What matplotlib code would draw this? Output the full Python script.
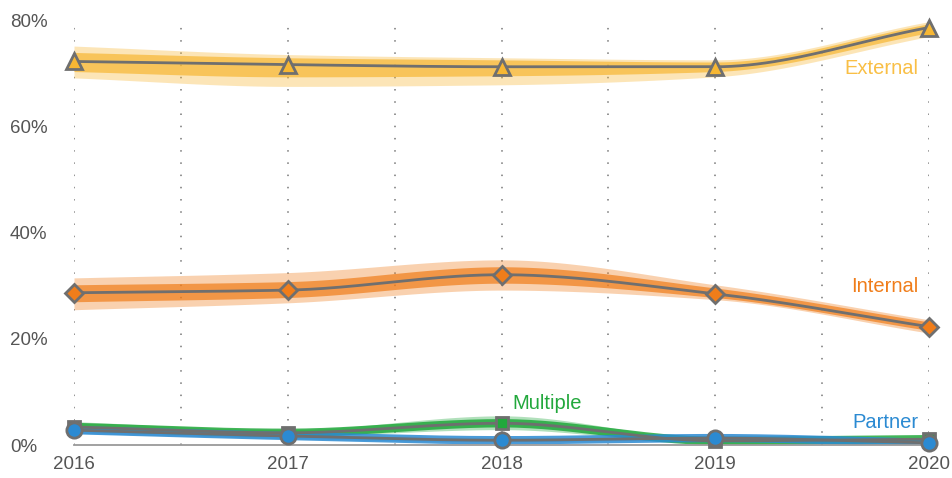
import matplotlib
matplotlib.use("Agg")
import matplotlib.pyplot as plt
import numpy as np

plt.rcParams["font.family"] = ["Liberation Sans", "DejaVu Sans"]

years = [2016, 2017, 2018, 2019, 2020]

# mean share (%) per source
external = [72.3, 71.7, 71.3, 71.3, 78.7]
internal = [28.7, 29.2, 32.1, 28.5, 22.3]
multiple = [3.4, 2.3, 4.1, 0.8, 1.1]
partner = [2.8, 1.7, 0.9, 1.3, 0.4]

# spread of the resampled curves (outer / dense core)
external_lo = [69.2, 67.6, 67.9, 69.4, 77.0]
external_hi = [75.2, 73.6, 73.0, 72.6, 79.8]
external_lo2 = [70.4, 69.4, 69.6, 70.4, 77.7]
external_hi2 = [74.0, 73.0, 72.6, 72.2, 79.4]
internal_lo = [25.5, 26.8, 29.2, 27.4, 21.1]
internal_hi = [31.5, 32.5, 34.9, 30.2, 23.6]
internal_lo2 = [27.0, 27.8, 30.5, 27.8, 21.6]
internal_hi2 = [30.2, 30.8, 33.6, 29.6, 23.2]
multiple_lo = [2.6, 1.7, 2.9, 0.3, 0.7]
multiple_hi = [4.4, 2.9, 5.5, 1.2, 1.4]
partner_lo = [2.2, 1.2, 0.6, 1.0, 0.2]
partner_hi = [3.3, 2.1, 1.3, 1.7, 0.7]

C = dict(ext="#f7b733", int="#f07d1a", mul="#22a83c", par="#2b8ad2", mean="#6f6f6f")


def smooth(x, y, n=200):
    """monotone cubic (Fritsch-Carlson) path through the points"""
    x = np.asarray(x, float); y = np.asarray(y, float)
    h = np.diff(x); d = np.diff(y) / h
    m = np.zeros_like(y)
    m[0], m[-1] = d[0], d[-1]
    for i in range(1, len(y) - 1):
        if d[i-1] * d[i] > 0:
            m[i] = 2 / (1/d[i-1] + 1/d[i])
    xs = np.linspace(x[0], x[-1], n)
    idx = np.clip(np.searchsorted(x, xs) - 1, 0, len(x) - 2)
    t = (xs - x[idx]) / h[idx]
    h00 = 2*t**3 - 3*t**2 + 1; h10 = t**3 - 2*t**2 + t
    h01 = -2*t**3 + 3*t**2; h11 = t**3 - t**2
    ys = h00*y[idx] + h10*h[idx]*m[idx] + h01*y[idx+1] + h11*h[idx]*m[idx+1]
    return xs, ys


fig = plt.figure(figsize=(9.53, 4.78), dpi=100)
ax = fig.add_axes([74/953, 33/478, 855/953, 435/478])
ax.set_xlim(2016, 2020)
ax.set_ylim(0, 82)

for xv in np.arange(2016, 2020.01, 0.5):
    ax.axvline(xv, ymin=0, ymax=0.98, color="#777777", lw=1.1,
               ls=(0, (1, 7)), zorder=0)

series = [
    (external, external_lo, external_hi, external_lo2, external_hi2, C["ext"], "^", 11),
    (internal, internal_lo, internal_hi, internal_lo2, internal_hi2, C["int"], "D", 9),
    (multiple, multiple_lo, multiple_hi, None, None, C["mul"], "s", 9),
    (partner, partner_lo, partner_hi, None, None, C["par"], "o", 11),
]

for mean, lo, hi, lo2, hi2, col, mk, ms in series:
    xs, ylo = smooth(years, lo)
    _, yhi = smooth(years, hi)
    ax.fill_between(xs, ylo, yhi, color=col, alpha=0.35, lw=0, zorder=1)
    if lo2 is not None:
        _, ylo2 = smooth(years, lo2)
        _, yhi2 = smooth(years, hi2)
        ax.fill_between(xs, ylo2, yhi2, color=col, alpha=0.7, lw=0, zorder=1.5)
    else:
        _, ym = smooth(years, mean)
        ax.plot(xs, ym, color=col, lw=6, alpha=0.85, zorder=1.5,
                solid_capstyle="butt")

for mean, lo, hi, lo2, hi2, col, mk, ms in series:
    xs, ym = smooth(years, mean)
    ax.plot(xs, ym, color=C["mean"], lw=2.0, zorder=3, solid_capstyle="butt")
    ax.plot(years, mean, ls="none", marker=mk, ms=ms, mfc=col, mec=C["mean"],
            mew=2.0, zorder=4, clip_on=False)

lab = dict(fontsize=14.5)
ax.text(2019.95, 71.0, "External", color="#f9bf45", ha="right", va="center", **lab)
ax.text(2019.95, 29.9, "Internal", color=C["int"], ha="right", va="center", **lab)
ax.text(2018.215, 7.9, "Multiple", color=C["mul"], ha="center", va="center", **lab)
ax.text(2019.95, 4.2, "Partner", color=C["par"], ha="right", va="center", **lab)

ax.set_xticks(years)
ax.set_xticklabels([str(y) for y in years])
ax.set_yticks([0, 20, 40, 60, 80])
ax.set_yticklabels(["0%", "20%", "40%", "60%", "80%"])
ax.tick_params(axis="both", length=0, labelsize=13.5, labelcolor="#555555")
ax.tick_params(axis="x", pad=8)
ax.tick_params(axis="y", pad=46)
for t in ax.get_yticklabels():
    t.set_horizontalalignment("left")

for s in ["top", "right", "left"]:
    ax.spines[s].set_visible(False)
ax.spines["bottom"].set_color("#9a9a9a")
ax.spines["bottom"].set_linewidth(1.3)
ax.spines["bottom"].set_zorder(2)

fig.savefig("out.png", dpi=100)
